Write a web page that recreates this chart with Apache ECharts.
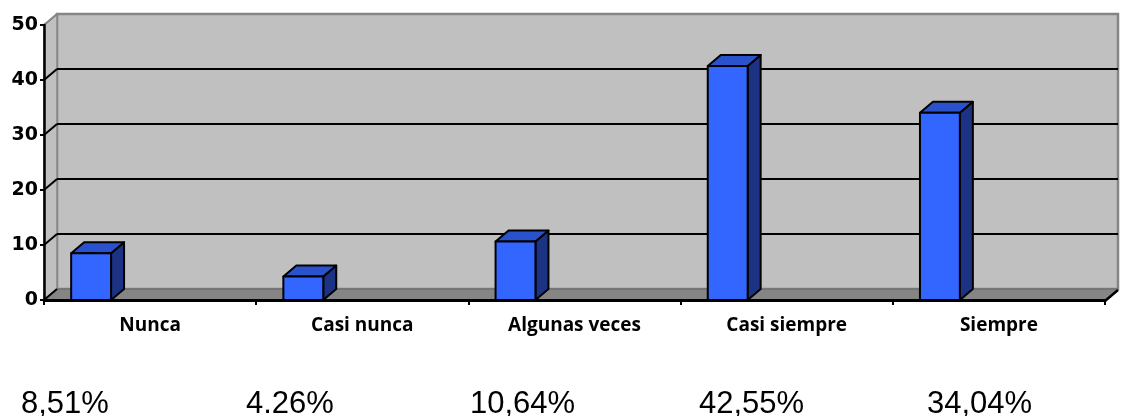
<!DOCTYPE html>
<html>
<head>
<meta charset="utf-8">
<script src="https://cdn.jsdelivr.net/npm/echarts@6/dist/echarts.min.js"></script>
<style>
  html, body { margin: 0; padding: 0; background: #ffffff; }
  #chart { width: 1123px; height: 416px; }
</style>
</head>
<body>
<div id="chart"></div>
<script>
// Survey answers and their share of responses (percent)
const categories = ['Nunca', 'Casi nunca', 'Algunas veces', 'Casi siempre', 'Siempre'];
const values = [8.51, 4.26, 10.64, 42.55, 34.04];
// Percent captions printed under the chart
const pctLabels = ['8,51%', '4.26%', '10,64%', '42,55%', '34,04%'];
// Value axis
const yMin = 0;
const yMax = 50;
const yStep = 10;

// Oblique depth of the pseudo-3D box (pixels)
const DX = 13;
const DY = 11;

const chart = echarts.init(document.getElementById('chart'), null, { renderer: 'canvas' });

// Walls, floor and gridlines of the 3D box
function renderWalls(params, api) {
  const cs = params.coordSys;
  const left = cs.x, right = cs.x + cs.width;
  const yTop = api.coord([0, yMax])[1];
  const yBase = api.coord([0, yMin])[1];
  const children = [];
  // back wall
  children.push({
    type: 'rect',
    shape: { x: left + DX, y: yTop - DY, width: right - left, height: yBase - yTop },
    style: { fill: '#C0C0C0', stroke: '#858585', lineWidth: 2.5 }
  });
  // side wall
  children.push({
    type: 'polygon',
    shape: { points: [[left, yTop], [left + DX, yTop - DY], [left + DX, yBase - DY], [left, yBase]] },
    style: { fill: '#C0C0C0', stroke: '#858585', lineWidth: 1.5 }
  });
  // floor
  children.push({
    type: 'polygon',
    shape: { points: [[left, yBase], [left + DX, yBase - DY], [right + DX, yBase - DY], [right, yBase]] },
    style: { fill: '#858585', stroke: '#666666', lineWidth: 1 }
  });
  children.push({
    type: 'line',
    shape: { x1: right, y1: yBase + 1, x2: right + DX, y2: yBase - DY + 1 },
    style: { stroke: '#000000', lineWidth: 2.5 }
  });
  // gridlines on the back wall and their run across the side wall
  for (let v = yMin; v <= yMax; v += yStep) {
    const y = api.coord([0, v])[1];
    const col = (v === yMax) ? '#858585' : '#000000';
    children.push({
      type: 'line',
      shape: { x1: left, y1: y, x2: left + DX, y2: y - DY },
      style: { stroke: col, lineWidth: 2 }
    });
    if (v > yMin && v < yMax) {
      children.push({
        type: 'line',
        shape: { x1: left + DX, y1: y - DY, x2: right + DX, y2: y - DY },
        style: { stroke: '#000000', lineWidth: 2 }
      });
    }
  }
  return { type: 'group', children: children };
}

// One 3D column: front, top and right faces
function renderColumn(params, api) {
  const i = api.value(0);
  const v = api.value(1);
  const top = api.coord([i, v]);
  const base = api.coord([i, 0]);
  const cw = api.size([1, 0])[0];
  const x0 = top[0] - 0.372 * cw;
  const x1 = top[0] - 0.184 * cw;
  const yt = top[1], yb = base[1];
  const line = { stroke: '#000000', lineWidth: 2, lineJoin: 'round' };
  return {
    type: 'group',
    children: [
      {
        type: 'polygon',
        shape: { points: [[x1, yb], [x1, yt], [x1 + DX, yt - DY], [x1 + DX, yb - DY]] },
        style: Object.assign({ fill: '#1C3384' }, line)
      },
      {
        type: 'polygon',
        shape: { points: [[x0, yt], [x1, yt], [x1 + DX, yt - DY], [x0 + DX, yt - DY]] },
        style: Object.assign({ fill: '#2A52CC' }, line)
      },
      {
        type: 'polygon',
        shape: { points: [[x0, yb], [x1, yb], [x1, yt], [x0, yt]] },
        style: Object.assign({ fill: '#3366FF' }, line)
      }
    ]
  };
}

const pctX = [21, 246, 470, 699, 927];

const option = {
  animation: false,
  backgroundColor: '#ffffff',
  grid: { left: 44, right: 18, top: 25, bottom: 116, containLabel: false },
  xAxis: {
    type: 'category',
    data: categories,
    boundaryGap: true,
    z: 10,
    axisLine: { lineStyle: { color: '#000000', width: 3 } },
    axisTick: { show: true, length: 5, lineStyle: { color: '#000000', width: 2 } },
    axisLabel: {
      margin: 16,
      color: '#000000',
      fontFamily: 'Open Sans',
      fontWeight: 'bold',
      fontSize: 19
    },
    splitLine: { show: false }
  },
  yAxis: {
    type: 'value',
    min: yMin,
    max: yMax,
    interval: yStep,
    z: 10,
    axisLine: { show: true, lineStyle: { color: '#000000', width: 2.5 } },
    axisTick: { show: true, length: 4, lineStyle: { color: '#000000', width: 2 } },
    axisLabel: {
      margin: 6,
      color: '#000000',
      fontFamily: 'DejaVu Sans',
      fontWeight: 'bold',
      fontSize: 19
    },
    splitLine: { show: false }
  },
  graphic: pctLabels.map((t, k) => ({
    type: 'text',
    left: pctX[k],
    top: 389,
    style: {
      text: t,
      fill: '#000000',
      font: '31px "Liberation Sans", Arial, sans-serif'
    }
  })),
  series: [
    {
      type: 'custom',
      name: 'box',
      z: 1,
      silent: true,
      data: [[0, 0]],
      renderItem: renderWalls
    },
    {
      type: 'custom',
      name: 'Respuestas',
      z: 3,
      data: values.map((v, i) => [i, v]),
      encode: { x: 0, y: 1 },
      renderItem: renderColumn
    }
  ]
};

chart.setOption(option);
</script>
</body>
</html>
